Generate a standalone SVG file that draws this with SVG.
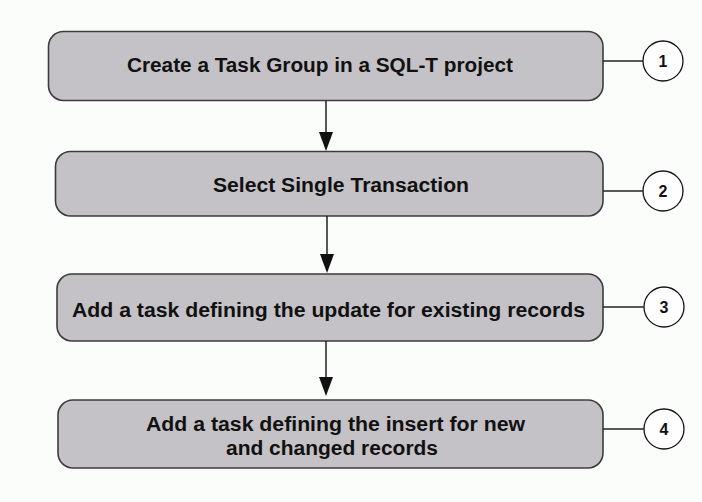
<svg xmlns="http://www.w3.org/2000/svg" width="702" height="502" viewBox="0 0 702 502">
  <defs>
    <style>
      .step { fill: #c4c2c6; stroke: #3c3c3c; stroke-width: 1.6; }
      .label { font-family: "Liberation Sans", Arial, sans-serif; font-weight: bold; font-size: 20px; fill: #111111; }
      .badge { fill: #fdfefd; stroke: #111111; stroke-width: 1.3; }
      .num { font-family: "Liberation Sans", Arial, sans-serif; font-weight: bold; font-size: 16px; fill: #111111; text-anchor: middle; }
      .flow { stroke: #111111; stroke-width: 1.4; fill: none; }
      .tick { stroke: #222222; stroke-width: 1.3; fill: none; }
      .head { fill: #111111; }
    </style>
  </defs>

  <rect x="0" y="0" width="702" height="502" fill="#fbfdfb"/>

  <!-- process steps -->
  <g id="step1">
    <rect class="step" x="48.5" y="31.5" width="554.5" height="69" rx="15" ry="15"/>
    <text class="label" x="127" y="72" textLength="386" lengthAdjust="spacingAndGlyphs">Create a Task Group in a SQL-T project</text>
  </g>
  <g id="step2">
    <rect class="step" x="55.5" y="151.5" width="547.5" height="64.5" rx="15" ry="15"/>
    <text class="label" x="213" y="192" textLength="256" lengthAdjust="spacingAndGlyphs">Select Single Transaction</text>
  </g>
  <g id="step3">
    <rect class="step" x="57" y="274" width="546" height="67" rx="15" ry="15"/>
    <text class="label" x="72" y="317" textLength="513" lengthAdjust="spacingAndGlyphs">Add a task defining the update for existing records</text>
  </g>
  <g id="step4">
    <rect class="step" x="58" y="400" width="545" height="68" rx="15" ry="15"/>
    <text class="label" x="146" y="431" textLength="379" lengthAdjust="spacingAndGlyphs">Add a task defining the insert for new</text>
    <text class="label" x="226" y="455" textLength="212" lengthAdjust="spacingAndGlyphs">and changed records</text>
  </g>

  <!-- numbered callouts -->
  <g id="badge1">
    <circle class="badge" cx="663" cy="61" r="20"/>
    <text class="num" x="663" y="67">1</text>
  </g>
  <g id="badge2">
    <circle class="badge" cx="663" cy="191" r="20"/>
    <text class="num" x="663" y="197">2</text>
  </g>
  <g id="badge3">
    <circle class="badge" cx="664" cy="307" r="20"/>
    <text class="num" x="664" y="313">3</text>
  </g>
  <g id="badge4">
    <circle class="badge" cx="664" cy="429" r="20"/>
    <text class="num" x="664" y="435">4</text>
  </g>

  <!-- connectors -->
  <g id="connectors">
    <line class="flow" x1="326" y1="101" x2="326" y2="135"/>
    <path class="head" d="M319,132 L333,132 L326,151 Z"/>
    <line class="flow" x1="327" y1="216" x2="327" y2="257"/>
    <path class="head" d="M320,254 L334,254 L327,273 Z"/>
    <line class="flow" x1="326" y1="341" x2="326" y2="380"/>
    <path class="head" d="M319,377 L333,377 L326,396 Z"/>

    <line class="tick" x1="603" y1="61" x2="643" y2="61"/>
    <line class="tick" x1="603" y1="191" x2="643" y2="191"/>
    <line class="tick" x1="603" y1="307" x2="644" y2="307"/>
    <line class="tick" x1="603" y1="429" x2="644" y2="429"/>
  </g>
</svg>
